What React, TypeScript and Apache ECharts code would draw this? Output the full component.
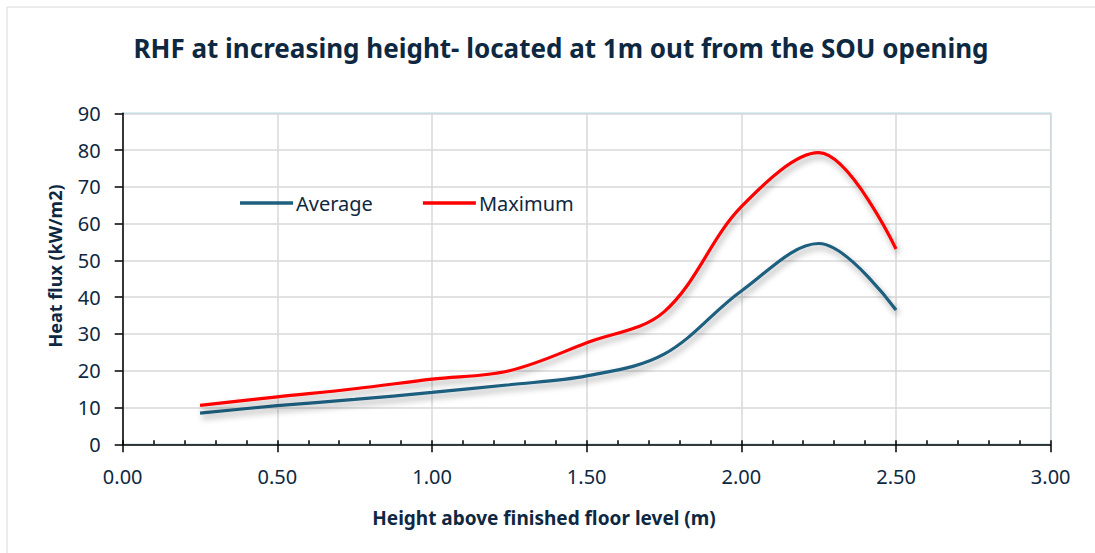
import React, { useEffect, useRef } from "react";
import * as echarts from "echarts";

const heights = [0.25, 0.5, 0.75, 1.0, 1.25, 1.5, 1.75, 2.0, 2.25, 2.5];
const averageFlux = [8.5, 10.5, 12.2, 14.1, 16.2, 18.6, 24.5, 41.7, 54.6, 36.5];
const maximumFlux = [10.6, 12.9, 15.1, 17.7, 20.0, 27.6, 36.0, 64.6, 79.3, 53.1];
const seriesNames = ["Average", "Maximum"];
const titleText = "RHF at increasing height- located at 1m out from the SOU opening";
const xName = "Height above finished floor level (m)";
const yName = "Heat flux (kW/m2)";

const FONT = "'Noto Sans', 'Liberation Sans', sans-serif";
const NAVY = "#0e2841";
const AVG_COLOR = "#1f5f7e";
const MAX_COLOR = "#ff0000";

export default function App() {
  const ref = useRef<HTMLDivElement>(null);
  useEffect(() => {
    if (!ref.current) return;
    const chart = echarts.init(ref.current, undefined, { renderer: "svg" });
    const shadow = {
      shadowColor: "rgba(0,0,0,0.35)",
      shadowBlur: 6,
      shadowOffsetX: 2,
      shadowOffsetY: 4,
    };
    chart.setOption({
      animation: false,
      backgroundColor: "#ffffff",
      textStyle: { fontFamily: FONT },
      title: {
        text: titleText,
        left: 556,
        textAlign: "center",
        top: 30,
        textStyle: { fontFamily: FONT, fontSize: 26, fontWeight: "bold", color: NAVY },
      },
      legend: {
        left: 240,
        top: 193,
        padding: 0,
        itemWidth: 53,
        itemHeight: 3.5,
        itemGap: 50,
        icon: "rect",
        textStyle: { fontFamily: FONT, fontSize: 20, color: NAVY, padding: [0, 0, 0, -2] },
        data: [
          { name: seriesNames[0], itemStyle: { color: AVG_COLOR } },
          { name: seriesNames[1], itemStyle: { color: MAX_COLOR } },
        ],
      },
      grid: {
        left: 122.7,
        right: 44.3,
        top: 113.3,
        bottom: 108.7,
        show: true,
        borderColor: "#b4dcec",
        borderWidth: 1.5,
      },
      xAxis: [
        {
          type: "value",
          min: 0,
          max: 3,
          interval: 0.5,
          axisLine: { show: true, lineStyle: { color: "#000", width: 1.5 } },
          axisTick: { show: true, length: 8, lineStyle: { color: "#000", width: 1.5 } },
          axisLabel: {
            margin: 22,
            fontSize: 20,
            color: NAVY,
            fontFamily: FONT,
            formatter: (v: number) => v.toFixed(2),
          },
          splitLine: { show: true, lineStyle: { color: "#d9d9d9", width: 1.5 } },
        },
        {
          type: "value",
          min: 0,
          max: 3,
          interval: 0.1,
          position: "bottom",
          axisLine: { show: false },
          axisTick: { show: true, inside: true, length: 4, lineStyle: { color: "#000", width: 1.5 } },
          axisLabel: { show: false },
          splitLine: { show: false },
        },
      ],
      yAxis: {
        type: "value",
        min: 0,
        max: 90,
        interval: 10,
        axisLine: { show: true, lineStyle: { color: "#000", width: 1.5 } },
        axisTick: { show: true, length: 8, lineStyle: { color: "#000", width: 1.5 } },
        axisLabel: { margin: 22, fontSize: 20, color: NAVY, fontFamily: FONT },
        splitLine: { show: true, lineStyle: { color: "#d9d9d9", width: 1.5 } },
      },
      graphic: [
        {
          type: "rect",
          shape: { x: 7, y: 7, width: 1100, height: 560 },
          style: { fill: "none", stroke: "#d9d9d9", lineWidth: 1 },
          silent: true,
        },
        {
          type: "text",
          x: 544,
          y: 518,
          style: {
            text: xName,
            fontFamily: FONT,
            fontSize: 19,
            fontWeight: "bold",
            fill: NAVY,
            align: "center",
            verticalAlign: "middle",
          },
        },
        {
          type: "text",
          x: 55,
          y: 266,
          rotation: Math.PI / 2,
          style: {
            text: yName,
            fontFamily: FONT,
            fontSize: 18,
            fontWeight: "bold",
            fill: NAVY,
            align: "center",
            verticalAlign: "middle",
          },
        },
      ],
      series: [
        {
          name: seriesNames[0],
          type: "line",
          smooth: 0.35,
          symbol: "none",
          xAxisIndex: 0,
          color: AVG_COLOR,
          lineStyle: { color: AVG_COLOR, width: 3.2, ...shadow },
          data: heights.map((h, i) => [h, averageFlux[i]]),
        },
        {
          name: seriesNames[1],
          type: "line",
          smooth: 0.35,
          symbol: "none",
          xAxisIndex: 0,
          color: MAX_COLOR,
          lineStyle: { color: MAX_COLOR, width: 3.2, ...shadow },
          data: heights.map((h, i) => [h, maximumFlux[i]]),
        },
      ],
    });
    return () => chart.dispose();
  }, []);
  return (
    <div
      ref={ref}
      style={{ position: "fixed", left: 0, top: 0, width: 1095, height: 553, background: "#fff" }}
    />
  );
}
